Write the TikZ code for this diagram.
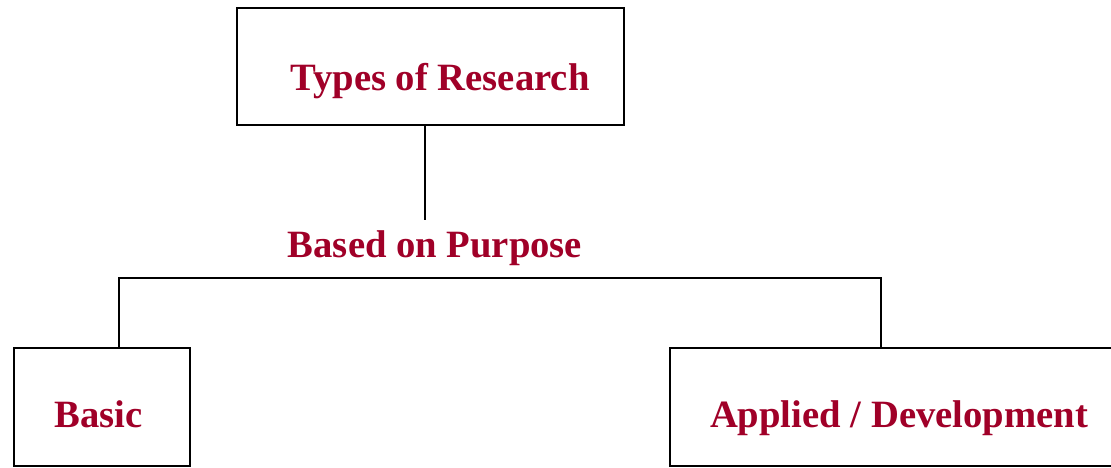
\documentclass[tikz,border=0pt]{standalone}
\usepackage{fontspec}
\setmainfont{Liberation Serif}
\usepackage{tikz}
\usetikzlibrary{positioning}

\definecolor{headred}{RGB}{160,0,40}

\tikzset{
  box/.style={draw, rectangle, line width=0.85pt, inner sep=0pt},
  lbl/.style={anchor=base, text=headred, font=\fontsize{22}{26}\selectfont\bfseries},
  link/.style={line width=0.85pt}
}

\begin{document}
\begin{tikzpicture}[x=0.02cm, y=-0.02cm]
\useasboundingbox (0,0) rectangle (1111,467);
\clip (0,0) rectangle (1111,467);
% boxes
\node[box, minimum width=7.74cm, minimum height=2.34cm] (types) at (430.5,66.5) {};
\node[box, minimum width=3.52cm, minimum height=2.36cm] (basic) at (102,407) {};
\node[box, minimum width=9.2cm, minimum height=2.36cm] (applied) at (900,407) {};
% texts
\node[lbl] (typestext) at (440,90) {Types of Research};
\node[lbl] (purpose) at (435,257) {Based on Purpose};
\node[lbl] (basictext) at (98.5,427) {Basic};
\node[lbl] (appliedtext) at (899,427) {Applied / Development};
% connectors
\coordinate (stem) at (425,220);
\coordinate (lj) at (119,278);
\coordinate (rj) at (881,278);
\draw[link] (stem |- types.south) -- (stem);
\draw[link] (lj |- basic.north) -- (lj) -- (rj) -- (rj |- applied.north);
\end{tikzpicture}
\end{document}
